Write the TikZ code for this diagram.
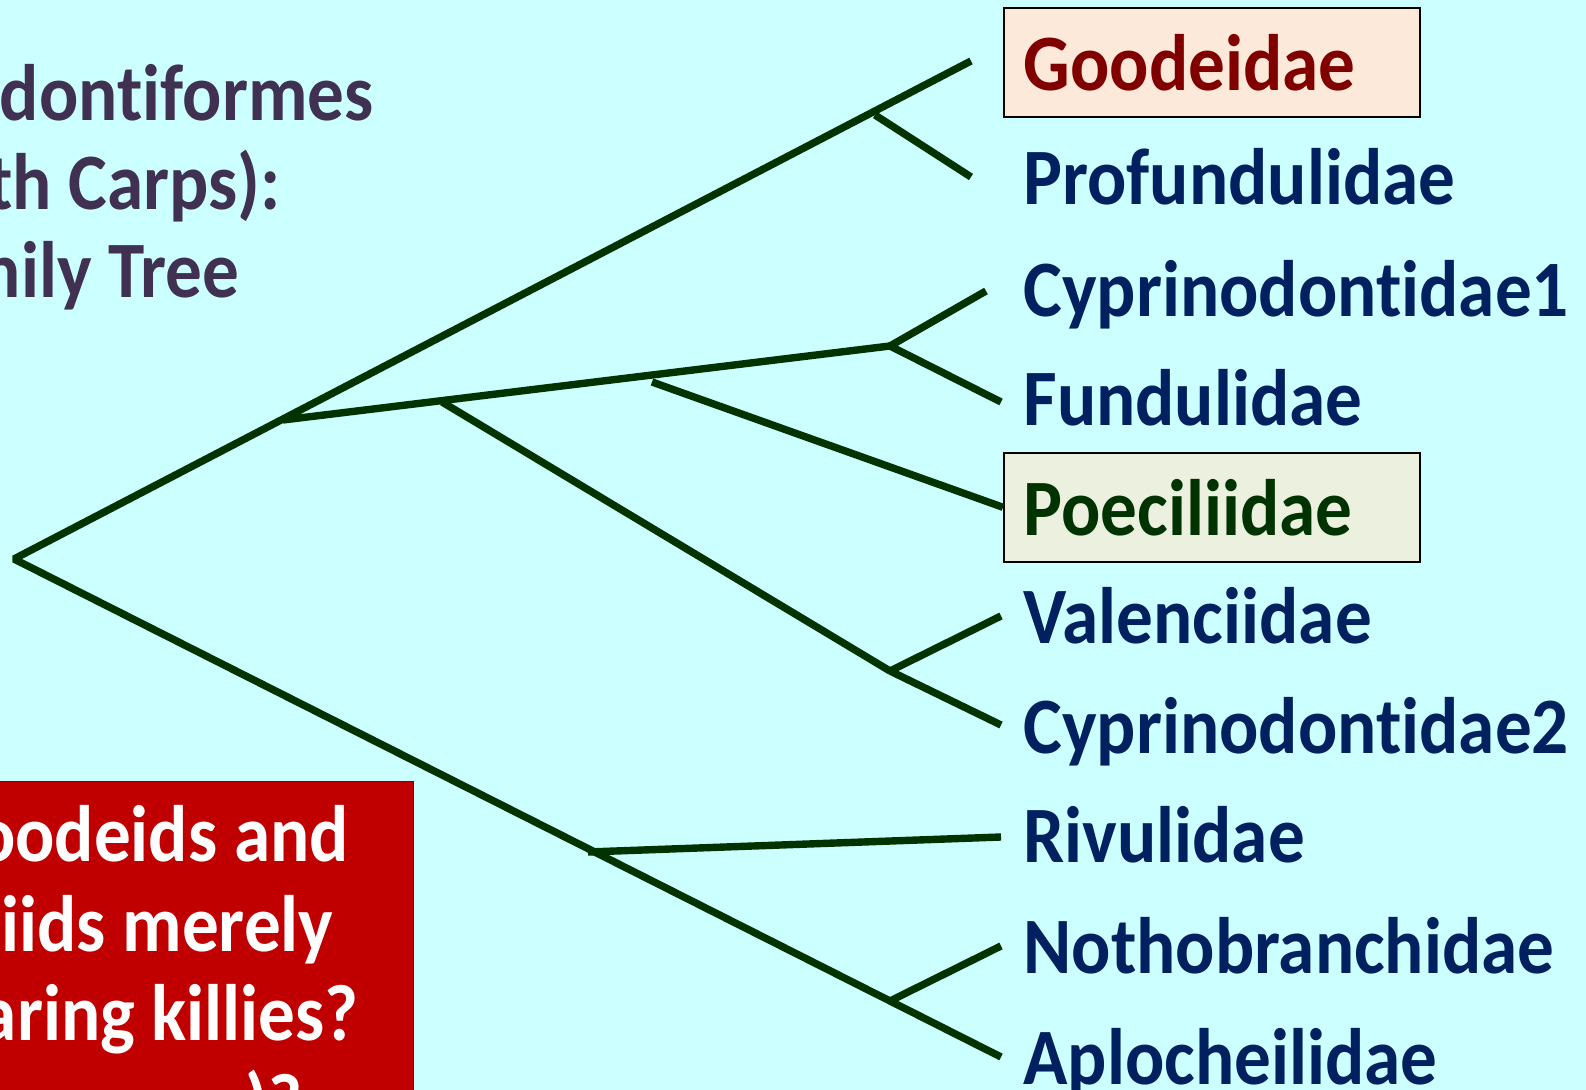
\documentclass[tikz,border=0pt]{standalone}
\usepackage{fontspec}
\setmainfont{Carlito}[FakeStretch=0.915, Ligatures=NoCommon,
  Contextuals=NoAlternate, RawFeature={-clig}]
\usepackage{xcolor}
\usepackage{tikz}

\definecolor{slidebg}{HTML}{CCFFFF}
\definecolor{treegreen}{HTML}{003300}
\definecolor{taxonblue}{HTML}{002060}
\definecolor{titlepurple}{HTML}{403152}
\definecolor{goodred}{HTML}{800000}
\definecolor{goodfill}{HTML}{FDE9D9}
\definecolor{poecfill}{HTML}{EBF1DE}
\definecolor{notered}{HTML}{C00000}

% keep t and i apart (no ti ligature)
\newcommand{\tsep}{t\kern0pt}

\begin{document}
\begin{tikzpicture}[
  x=0.5pt, y=-0.5pt,
  font=\fontsize{40}{44}\selectfont\bfseries,
  branch/.style={line width=3.7pt, draw=treegreen, line join=bevel},
  taxon/.style={anchor=base west, inner sep=0pt, text=taxonblue},
  hlbox/.style={draw=black, line width=0.8pt, anchor=north west,
    minimum width=208pt, minimum height=54.5pt, inner xsep=10pt,
    text width=188pt, align=left},
  heading/.style={anchor=base east, inner sep=0pt, text=titlepurple},
  note/.style={anchor=base east, inner sep=0pt, text=white}
]
\useasboundingbox (0,0) rectangle (1586,1090);
\clip (0,0) rectangle (1586,1090);
\fill[slidebg] (0,0) rectangle (1586,1090);

% ------------------------------------------------------------
% Heading (cut off at the left)
% ------------------------------------------------------------
\node[heading] (head1) at (374,121) {don\tsep iformes};
\node[heading] (head2) at (281,210) {th Carps):};
\node[heading] (head3) at (240,298) {nily Tree};

% ------------------------------------------------------------
% Question box (bottom left)
% ------------------------------------------------------------
\node[draw=black!85, line width=0.6pt, fill=notered, anchor=north east,
      minimum width=300pt, minimum height=200pt] (qbox) at (414,781) {};
\node[note] (q1) at (349,862) {oodeids and};
\node[note] (q2) at (334,951) {iids merely};
\node[note] (q3) at (359,1040) {aring killies?};
\node[note] (q4) at (303,1129) {)?};

% ------------------------------------------------------------
% Families
% ------------------------------------------------------------
\node[hlbox, fill=goodfill, text=goodred] (good) at (1003,7) {Goodeidae};
\node[taxon] (prof)  at (1023,205) {Profundulidae};
\node[taxon] (cyp1)  at (1023,317) {Cyprinodon\tsep idae1};
\node[taxon] (fund)  at (1023,426) {Fundulidae};
\node[hlbox, fill=poecfill, text=treegreen] (poec) at (1003,452) {Poeciliidae};
\node[taxon] (val)   at (1023,644) {Valenciidae};
\node[taxon] (cyp2)  at (1023,754) {Cyprinodon\tsep idae2};
\node[taxon] (riv)   at (1023,863) {Rivulidae};
\node[taxon] (noth)  at (1023,973) {Nothobranchidae};
\node[taxon] (aplo)  at (1023,1084) {Aplocheilidae};

% ------------------------------------------------------------
% Tree: forks and tips
% ------------------------------------------------------------
\coordinate (root)    at (14,559);
\coordinate (goodtip) at (971,61);
\coordinate (forkgp)  at (875,115);
\coordinate (proftip) at (971,177);
\coordinate (forka)   at (283,420);
\coordinate (forkb)   at (890,346);
\coordinate (cyp1tip) at (986,291);
\coordinate (fundtip) at (1001,402);
\coordinate (forkm)   at (442,402);
\coordinate (forkv)   at (890,671);
\coordinate (valtip)  at (1001,616);
\coordinate (cyp2tip) at (1001,725);
\coordinate (poecend) at (652,382);
\coordinate (forkr)   at (588,852);
\coordinate (rivtip)  at (1001,837);
\coordinate (forkn)   at (890,1001);
\coordinate (nothtip) at (1001,946);
\coordinate (aplotip) at (1001,1057);

\draw[branch] (goodtip) -- (root) -- (aplotip);
\draw[branch] (forkgp) -- (proftip);
\draw[branch] (forka) -- (forkb);
\draw[branch] (cyp1tip) -- (forkb) -- (fundtip);
\draw[branch] (forkm) -- (forkv);
\draw[branch] (valtip) -- (forkv) -- (cyp2tip);
\draw[branch] (poecend) -- (poec.west);
\draw[branch] (forkr) -- (rivtip);
\draw[branch] (nothtip) -- (forkn);

\end{tikzpicture}
\end{document}
